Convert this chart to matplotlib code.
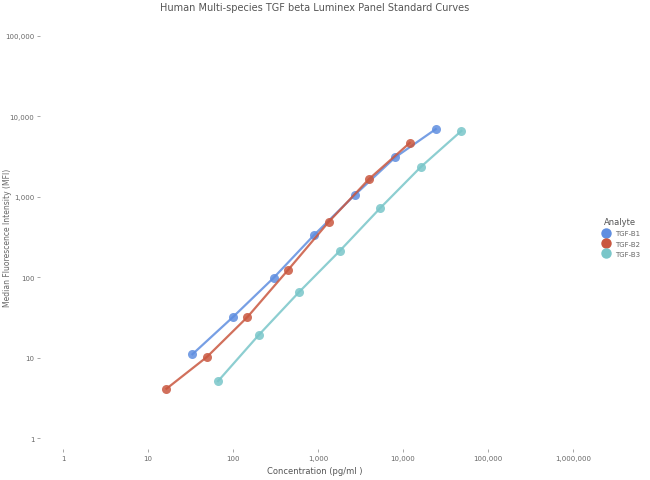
import matplotlib
matplotlib.use("Agg")
import matplotlib.pyplot as plt
from matplotlib.ticker import FuncFormatter
from matplotlib.lines import Line2D

# standard curve data (3-fold dilutions)
analytes = ["TGF-B1", "TGF-B2", "TGF-B3"]
colors = ["#5f8ee0", "#c9573f", "#79c6c9"]

conc_b1 = [33.3, 100, 300, 900, 2700, 8100, 24300]
mfi_b1 = [11, 32, 98, 335, 1050, 3100, 6950]

conc_b2 = [16.5, 49.4, 148, 444, 1333, 4000, 12000]
mfi_b2 = [4.1, 10.2, 32, 123, 486, 1670, 4680]

conc_b3 = [66.7, 200, 600, 1800, 5400, 16200, 48600]
mfi_b3 = [5.1, 19, 65.5, 212, 725, 2350, 6600]

x_ticks = [1, 10, 100, 1000, 10000, 100000, 1000000]
y_ticks = [1, 10, 100, 1000, 10000, 100000]

W, H = 650, 481
fig = plt.figure(figsize=(W / 100, H / 100), dpi=100)
# axes box in pixels: left 40, right 590, top 25, bottom 450
ax = fig.add_axes([40 / W, 1 - 450 / H, 550 / W, 425 / H])

series = [(conc_b1, mfi_b1), (conc_b2, mfi_b2), (conc_b3, mfi_b3)]
for (x, y), c in zip(series, colors):
    ax.plot(x, y, color=c, lw=1.6, marker="o", markersize=6.5, markeredgewidth=0, alpha=0.85)

ax.set_xscale("log")
ax.set_yscale("log")
ax.set_xlim(10 ** (-23 / 85), 10 ** (527 / 85))
ax.set_ylim(10 ** (-11 / 80.4), 10 ** (414 / 80.4))
ax.set_xticks(x_ticks)
ax.set_yticks(y_ticks)
ax.minorticks_off()
fmt = FuncFormatter(lambda v, p: f"{v:,.0f}")
ax.xaxis.set_major_formatter(fmt)
ax.yaxis.set_major_formatter(fmt)
ax.tick_params(colors="#999999", labelcolor="#666666", labelsize=5, length=2, width=0.6, pad=2)
for s in ax.spines.values():
    s.set_visible(False)

ax.set_xlabel("Concentration (pg/ml )", fontsize=6, color="#555555", labelpad=4)
ax.set_ylabel("Median Fluorescence Intensity (MFI)", fontsize=5.5, color="#666666")
ax.yaxis.set_label_coords(-28 / 550, 0.5)
fig.suptitle("Human Multi-species TGF beta Luminex Panel Standard Curves",
             x=315 / W, y=1 - 3 / H, fontsize=7, color="#555555")

handles = [Line2D([], [], color=c, marker="o", lw=0, markersize=6.5) for c in colors]
fig.legend(handles, analytes, title="Analyte", loc="upper left",
           bbox_to_anchor=(593 / W, 1 - 212 / H), frameon=False,
           fontsize=5, title_fontsize=6, handletextpad=0.3, labelspacing=0.6,
           labelcolor="#666666")
fig.legends[0].get_title().set_color("#555555")

fig.savefig("out.png", dpi=100)
